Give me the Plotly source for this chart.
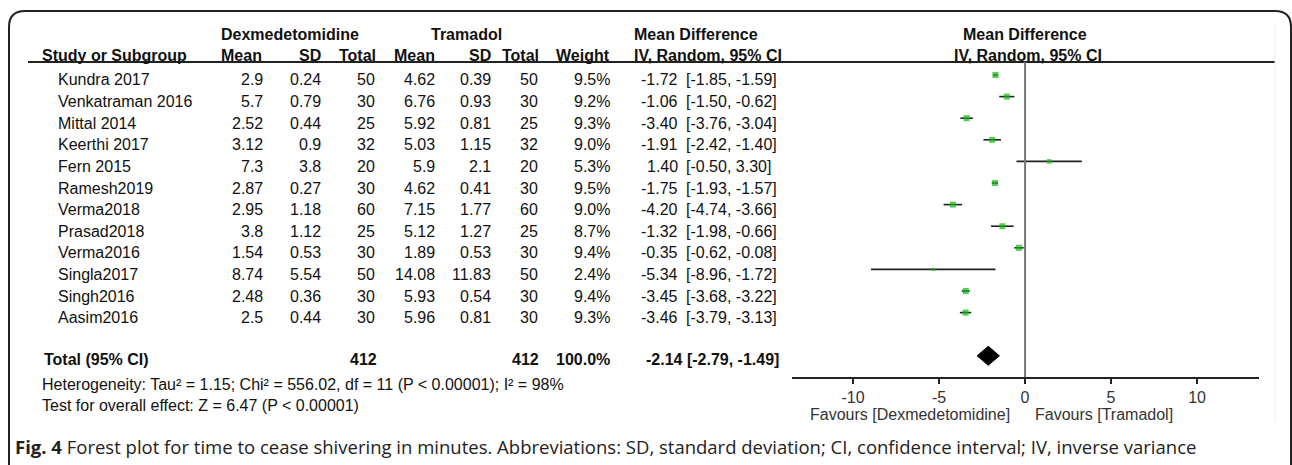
import plotly.graph_objects as go

# ---- study data -------------------------------------------------------
studies = ["Kundra 2017", "Venkatraman 2016", "Mittal 2014", "Keerthi 2017",
           "Fern 2015", "Ramesh2019", "Verma2018", "Prasad2018", "Verma2016",
           "Singla2017", "Singh2016", "Aasim2016"]
dex_mean = [2.9, 5.7, 2.52, 3.12, 7.3, 2.87, 2.95, 3.8, 1.54, 8.74, 2.48, 2.5]
dex_sd = [0.24, 0.79, 0.44, 0.9, 3.8, 0.27, 1.18, 1.12, 0.53, 5.54, 0.36, 0.44]
dex_n = [50, 30, 25, 32, 20, 30, 60, 25, 30, 50, 30, 30]
tra_mean = [4.62, 6.76, 5.92, 5.03, 5.9, 4.62, 7.15, 5.12, 1.89, 14.08, 5.93, 5.96]
tra_sd = [0.39, 0.93, 0.81, 1.15, 2.1, 0.41, 1.77, 1.27, 0.53, 11.83, 0.54, 0.81]
tra_n = [50, 30, 25, 32, 20, 30, 60, 25, 30, 50, 30, 30]
weight = [9.5, 9.2, 9.3, 9.0, 5.3, 9.5, 9.0, 8.7, 9.4, 2.4, 9.4, 9.3]
md = [-1.72, -1.06, -3.40, -1.91, 1.40, -1.75, -4.20, -1.32, -0.35, -5.34, -3.45, -3.46]
md_lo = [-1.85, -1.50, -3.76, -2.42, -0.50, -1.93, -4.74, -1.98, -0.62, -8.96, -3.68, -3.79]
md_hi = [-1.59, -0.62, -3.04, -1.40, 3.30, -1.57, -3.66, -0.66, -0.08, -1.72, -3.22, -3.13]

total_dex_n = 412
total_tra_n = 412
total_weight = 100.0
pooled = [-2.14, -2.79, -1.49]   # estimate, lower, upper

tick_vals = [-10, -5, 0, 5, 10]
tick_text = ["-10", "-5", "0", "5", "10"]
heterogeneity = "Heterogeneity: Tau² = 1.15; Chi² = 556.02, df = 11 (P < 0.00001); I² = 98%"
overall = "Test for overall effect: Z = 6.47 (P < 0.00001)"
caption = ("<b>Fig. 4</b> Forest plot for time to cease shivering in minutes. "
           "Abbreviations: SD, standard deviation; CI, confidence interval; "
           "IV, inverse variance")

# ---- page geometry ----------------------------------------------------
W, H = 1292, 465
FONT = "Liberation Sans, Arial, sans-serif"
INK = "#111111"


def px(x):
    return x / W


def py(y):
    return 1 - y / H


total_row = 13
row_top_px, row_step = 75, 21.6        # pixel position of row 0 and row pitch
plot_top, plot_bot = 62, 377           # forest panel vertical extent (px)
y_range = [(plot_bot - row_top_px) / row_step, (plot_top - row_top_px) / row_step]
x_left, x_right = 792, 1259
x_range = [-13.55, 13.6]

rows = list(range(len(studies)))

fig = go.Figure()

# study estimates with confidence intervals
fig.add_trace(go.Scatter(
    x=md, y=rows, mode="markers",
    marker=dict(symbol="square", color="#14b814",
                size=[2.0 * w ** 0.5 for w in weight], line=dict(width=0)),
    error_x=dict(type="data", symmetric=False,
                 array=[h - m for h, m in zip(md_hi, md)],
                 arrayminus=[m - l for m, l in zip(md, md_lo)],
                 color="#222222", thickness=1.6, width=0),
    showlegend=False, hoverinfo="skip", cliponaxis=False))

# pooled diamond
est, lo, hi = pooled
half_h = 0.44
fig.add_trace(go.Scatter(
    x=[lo, est, hi, est, lo],
    y=[total_row, total_row - half_h, total_row, total_row + half_h, total_row],
    mode="lines", fill="toself", fillcolor="#000000",
    line=dict(color="#000000", width=1), showlegend=False, hoverinfo="skip"))

# ---- table text -------------------------------------------------------
ann = []


def text(x, y, s, anchor="left", bold=False, size=16, color=INK, yref="paper", yshift=0, fam=FONT):
    ann.append(dict(x=px(x), y=y, xref="paper", yref=yref, text=f"<b>{s}</b>" if bold else s,
                    showarrow=False, xanchor=anchor, yanchor="middle", yshift=yshift,
                    font=dict(family=fam, size=size, color=color)))


# header lines
text(290, py(34), "Dexmedetomidine", "center", True)
text(466, py(34), "Tramadol", "center", True)
text(632, py(34), "Mean Difference", "left", True)
text(1025, py(34), "Mean Difference", "center", True)
text(40, py(55), "Study or Subgroup", "left", True)
for xr, s in [(264, "Mean"), (323, "SD"), (378, "Total"), (437, "Mean"),
              (493, "SD"), (541, "Total"), (612, "Weight")]:
    text(xr, py(55), s, "right", True)
text(632, py(55), "IV, Random, 95% CI", "left", True)
text(1028, py(55), "IV, Random, 95% CI", "center", True)

# study rows (aligned to forest rows); the effect estimate is right-aligned
est_right, ci_left = 680, 684
for i, name in enumerate(studies):
    sh = -5
    text(56, i, name, "left", yref="y", yshift=sh)
    text(265, i, f"{dex_mean[i]:g}", "right", yref="y", yshift=sh)
    text(323, i, f"{dex_sd[i]:g}", "right", yref="y", yshift=sh)
    text(377, i, f"{dex_n[i]}", "right", yref="y", yshift=sh)
    text(437, i, f"{tra_mean[i]:g}", "right", yref="y", yshift=sh)
    text(493, i, f"{tra_sd[i]:g}", "right", yref="y", yshift=sh)
    text(540, i, f"{tra_n[i]}", "right", yref="y", yshift=sh)
    text(612, i, f"{weight[i]:.1f}%", "right", yref="y", yshift=sh)
    text(est_right, i, f"{md[i]:.2f}", "right", yref="y", yshift=sh)
    text(ci_left, i, f"[{md_lo[i]:.2f}, {md_hi[i]:.2f}]", "left", yref="y", yshift=sh)

# total row
text(42, total_row, "Total (95% CI)", "left", True, yref="y", yshift=-4)
text(379, total_row, f"{total_dex_n}", "right", True, yref="y", yshift=-4)
text(541, total_row, f"{total_tra_n}", "right", True, yref="y", yshift=-4)
text(612, total_row, f"{total_weight:.1f}%", "right", True, yref="y", yshift=-4)
text(644, total_row, f"{est:.2f} [{lo:.2f}, {hi:.2f}]", "left", True, yref="y", yshift=-4)

text(40, py(384), heterogeneity, "left")
text(40, py(405), overall, "left")

# axis captions
text(1012, py(414), "Favours [Dexmedetomidine]", "right", color="#333333")
text(1033, py(414), "Favours [Tramadol]", "left", color="#333333")

# figure caption
text(13, py(446), caption, "left", size=18.5, color="#222222", fam="Open Sans, sans-serif")

# ---- shapes -----------------------------------------------------------
r = 16
border = (f"M {px(9)} {py(480)} L {px(9)} {py(11 + r)} "
          f"Q {px(9)} {py(11)} {px(9 + r)} {py(11)} "
          f"L {px(1291 - r)} {py(11)} Q {px(1291)} {py(11)} {px(1291)} {py(11 + r)} "
          f"L {px(1291)} {py(480)}")
shapes = [
    dict(type="path", path=border, xref="paper", yref="paper",
         line=dict(color="#222222", width=2)),
    # header rule
    dict(type="line", xref="paper", yref="paper", x0=px(28), x1=px(1275),
         y0=py(62), y1=py(62), line=dict(color="#222222", width=2)),
    # faint panel edge
    dict(type="line", xref="paper", yref="paper", x0=px(1275), x1=px(1275),
         y0=py(25), y1=py(422), line=dict(color="#eeeeee", width=1)),
    # line of no effect
    dict(type="line", xref="x", yref="paper", x0=0, x1=0,
         y0=py(plot_bot), y1=py(plot_top), line=dict(color="#777777", width=2)),
]

axis_font = dict(family=FONT, size=16, color="#333333")
fig.update_layout(
    width=W, height=H, margin=dict(l=0, r=0, t=0, b=0),
    paper_bgcolor="white", plot_bgcolor="rgba(0,0,0,0)",
    annotations=ann, shapes=shapes,
    xaxis=dict(domain=[px(x_left), px(x_right)], range=x_range, anchor="y",
               tickvals=tick_vals, ticktext=tick_text, ticks="outside", ticklen=5,
               tickwidth=1.5, tickcolor="#222222", showline=True, linecolor="#222222",
               linewidth=1.5, showgrid=False, zeroline=False, tickfont=axis_font,
               fixedrange=True),
    xaxis3=dict(domain=[px(x_left), px(x_right)], range=x_range, anchor="y",
                overlaying="x", tickvals=tick_vals, ticks="inside", ticklen=5,
                tickwidth=1.5, tickcolor="#222222", showticklabels=False,
                showline=False, showgrid=False, zeroline=False),
    yaxis=dict(domain=[py(plot_bot), py(plot_top)], range=y_range, visible=False,
               fixedrange=True),
)

fig.write_html("out.html")
